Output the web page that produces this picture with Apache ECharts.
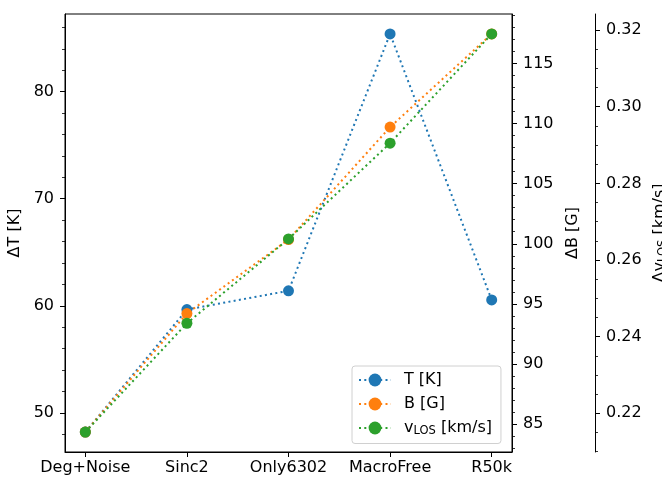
<!DOCTYPE html>
<html>
<head>
<meta charset="utf-8">
<script src="https://cdn.jsdelivr.net/npm/echarts@6/dist/echarts.min.js"></script>
<style>
  html, body { margin: 0; padding: 0; background: #fff; }
  #chart { width: 662px; height: 480px; }
</style>
</head>
<body>
<div id="chart"></div>
<script>
// Configurations compared along the x axis
const categories = ['Deg+Noise', 'Sinc2', 'Only6302', 'MacroFree', 'R50k'];

// Error measures per configuration
const deltaT = [48.2, 59.65, 61.4, 85.4, 60.55];       // K
const deltaB = [84.34, 94.2, 100.35, 109.7, 117.45];   // G
const deltaV = [0.2151, 0.2435, 0.2655, 0.2905, 0.319]; // km/s

// Major tick labels of the three y axes
const ticksT = [50, 60, 70, 80];
const ticksB = [85, 90, 95, 100, 105, 110, 115];
const ticksV = [0.22, 0.24, 0.26, 0.28, 0.30, 0.32];

const FONT = 'DejaVu Sans';
const FS = 16;
const COLORS = ['#1f77b4', '#ff7f0e', '#2ca02c'];

// axis range padded by 5% of the data span on each side
function padded(values) {
  const lo = Math.min(...values), hi = Math.max(...values);
  const pad = (hi - lo) * 0.05;
  return [lo - pad, hi + pad];
}

// minor ticks between the majors at a fixed step
function minorTicks(range, step, majors) {
  const out = [];
  const start = Math.ceil(range[0] / step - 1e-9);
  for (let k = start; k * step <= range[1] + 1e-12; k++) {
    const v = +(k * step).toFixed(6);
    if (!majors.some(m => Math.abs(m - v) < step * 1e-3)) out.push(v);
  }
  return out;
}

const rangeT = padded(deltaT);
const rangeB = padded(deltaB);
const rangeV = padded(deltaV);

const toPoints = vals => vals.map((v, i) => [i, v]);

const subStyle = { fontFamily: FONT, fontSize: 11.5, color: '#000', verticalAlign: 'bottom', padding: [7, 0, 0, 0] };

function majorAxis(opts, ticks, fmt) {
  return Object.assign({
    type: 'value',
    splitLine: { show: false },
    axisLine: { show: true, onZero: false, lineStyle: { color: '#000', width: 1 } },
    axisTick: { show: true, length: 5, customValues: ticks, lineStyle: { color: '#000', width: 1 } },
    axisLabel: {
      color: '#000', fontFamily: FONT, fontSize: FS, margin: 11, customValues: ticks,
      formatter: fmt || (v => String(v))
    },
    nameLocation: 'middle',
    nameRotate: 90,
    nameTextStyle: { color: '#000', fontFamily: FONT, fontSize: FS, rich: { sub: subStyle } }
  }, opts);
}

function minorAxis(position, offset, range, values) {
  return {
    type: 'value',
    position: position,
    offset: offset,
    min: range[0],
    max: range[1],
    splitLine: { show: false },
    axisLine: { show: false, onZero: false },
    axisTick: { show: true, length: 3, customValues: values, lineStyle: { color: '#000', width: 0.8 } },
    axisLabel: { show: false, customValues: values }
  };
}

const option = {
  animation: false,
  backgroundColor: '#fff',
  grid: {
    left: 65, right: 150, top: 14, bottom: 28,
    outerBoundsMode: 'none',
    containLabel: false,
    show: true, borderColor: '#000', borderWidth: 1, backgroundColor: 'transparent'
  },
  xAxis: {
    type: 'value',
    min: -0.2,
    max: 4.2,
    splitLine: { show: false },
    axisLine: { show: true, onZero: false, lineStyle: { color: '#000', width: 1 } },
    axisTick: { show: true, length: 5, customValues: [0, 1, 2, 3, 4], lineStyle: { color: '#000', width: 1 } },
    axisLabel: {
      color: '#000', fontFamily: FONT, fontSize: FS, margin: 8,
      customValues: [0, 1, 2, 3, 4],
      formatter: v => categories[Math.round(v)]
    }
  },
  yAxis: [
    majorAxis({ position: 'left', min: rangeT[0], max: rangeT[1], name: 'ΔT [K]', nameGap: 41 }, ticksT),
    majorAxis({ position: 'right', min: rangeB[0], max: rangeB[1], name: 'ΔB [G]', nameGap: 50 }, ticksB),
    majorAxis({
      position: 'right', offset: 83, min: rangeV[0], max: rangeV[1],
      name: 'Δv{sub|LOS} [km/s]', nameGap: 55, nameMoveOverlap: false
    }, ticksV, v => v.toFixed(2)),
    minorAxis('left', 0, rangeT, minorTicks(rangeT, 2, ticksT)),
    minorAxis('right', 0, rangeB, minorTicks(rangeB, 1, ticksB)),
    minorAxis('right', 83, rangeV, minorTicks(rangeV, 0.005, ticksV))
  ],
  legend: {
    left: 352, top: 366,
    orient: 'vertical',
    padding: [6, 9, 6, 6],
    itemGap: 8,
    itemWidth: 32,
    itemHeight: 16,
    borderColor: '#d0d0d0', borderWidth: 1, borderRadius: 3,
    backgroundColor: 'rgba(255,255,255,0.8)',
    textStyle: {
      color: '#000', fontFamily: FONT, fontSize: FS, padding: [0, 0, 0, 8],
      rich: { sub: subStyle }
    },
    formatter: name => name === 'vLOS [km/s]' ? 'v{sub|LOS} [km/s]' : name,
    data: ['T [K]', 'B [G]', 'vLOS [km/s]']
  },
  series: [
    { name: 'T [K]', data: toPoints(deltaT), yAxisIndex: 0 },
    { name: 'B [G]', data: toPoints(deltaB), yAxisIndex: 1 },
    { name: 'vLOS [km/s]', data: toPoints(deltaV), yAxisIndex: 2 }
  ].map((s, i) => Object.assign({
    type: 'line',
    symbol: 'circle',
    symbolSize: 11,
    z: 2 + i,
    color: COLORS[i],
    itemStyle: { color: COLORS[i] },
    lineStyle: { color: COLORS[i], width: 2, type: [2, 3.3] },
    emphasis: { disabled: true }
  }, s))
};

echarts.init(document.getElementById('chart'), null, { renderer: 'canvas' }).setOption(option);
</script>
</body>
</html>
